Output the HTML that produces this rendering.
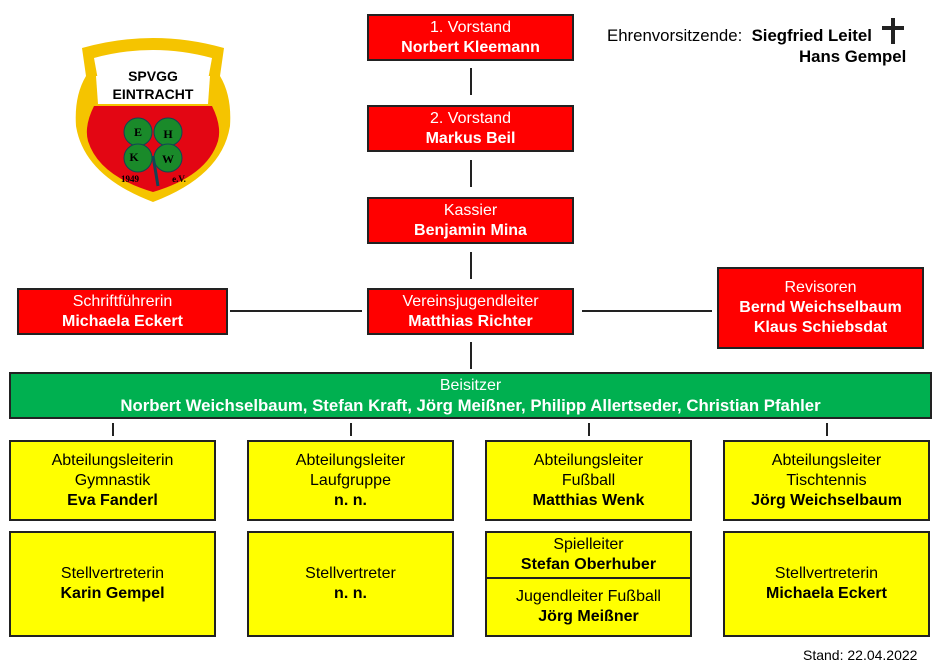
<!DOCTYPE html>
<html><head><meta charset="utf-8"><style>
body{margin:0;width:940px;height:666px;background:#fff;position:relative;font-family:"Liberation Sans",sans-serif;overflow:hidden}
.b{position:absolute;box-sizing:border-box;border:2px solid #222;display:flex;flex-direction:column;justify-content:center;align-items:center;text-align:center;font-size:16px;line-height:20px;white-space:nowrap}
.r{background:#f00;color:#fff}
.y{background:#ff0;color:#000}
.g{background:#00b050;color:#fff}
.g b{font-size:16.8px}
b{font-weight:bold}
.l{position:absolute;background:#222}
</style></head><body>
<svg style="position:absolute;left:72px;top:36px" width="162" height="168" viewBox="0 0 162 168">
<path d="M10 12 Q81 -8 152 12 L148 40 Q160 60 158 90 Q150 140 81 166 Q12 140 4 90 Q2 60 14 40 Z" fill="#f5c400"/>
<path d="M22 22 Q81 6 140 22 L136 44 L26 44 Z" fill="#fff"/>
<path d="M24 40 L138 40 L136 68 L26 68 Z" fill="#fff"/>
<path d="M22 70 L140 70 Q150 90 146 105 Q135 140 81 156 Q27 140 16 105 Q12 90 22 70 Z" fill="#e30613"/>
<text x="81" y="45" text-anchor="middle" font-family="Liberation Sans" font-weight="bold" font-size="14">SPVGG</text>
<text x="81" y="63" text-anchor="middle" font-family="Liberation Sans" font-weight="bold" font-size="14">EINTRACHT</text>
<g fill="#1a8a2a" stroke="#145">
<circle cx="66" cy="96" r="14"/><circle cx="96" cy="96" r="14"/><circle cx="66" cy="122" r="14"/><circle cx="96" cy="122" r="14"/></g>
<path d="M81 120 L86 150" stroke="#145" stroke-width="3"/>
<text x="66" y="100" font-size="12" text-anchor="middle" font-weight="bold" font-family="Liberation Serif">E</text>
<text x="96" y="102" font-size="12" text-anchor="middle" font-weight="bold" font-family="Liberation Serif">H</text>
<text x="62" y="125" font-size="12" text-anchor="middle" font-weight="bold" font-family="Liberation Serif">K</text>
<text x="96" y="127" font-size="12" text-anchor="middle" font-weight="bold" font-family="Liberation Serif">W</text>
<text x="58" y="146" font-size="9" text-anchor="middle" font-weight="bold" font-family="Liberation Serif">1949</text>
<text x="107" y="146" font-size="9" text-anchor="middle" font-weight="bold" font-family="Liberation Serif">e.V.</text>
</svg>
<div style="position:absolute;left:607px;top:26px;font-size:16.8px">Ehrenvorsitzende:&nbsp; <b>Siegfried Leitel</b></div>
<div class="l" style="left:891px;top:18px;width:4px;height:26px"></div>
<div class="l" style="left:882px;top:26px;width:22px;height:4px"></div>
<div style="position:absolute;left:799px;top:47px;font-size:16.8px;font-weight:bold">Hans Gempel</div>

<div class="b r" style="left:367px;top:14px;width:207px;height:47px">1. Vorstand<b>Norbert Kleemann</b></div>
<div class="b r" style="left:367px;top:105px;width:207px;height:47px">2. Vorstand<b>Markus Beil</b></div>
<div class="b r" style="left:367px;top:197px;width:207px;height:47px">Kassier<b>Benjamin Mina</b></div>
<div class="b r" style="left:367px;top:288px;width:207px;height:47px">Vereinsjugendleiter<b>Matthias Richter</b></div>
<div class="b r" style="left:17px;top:288px;width:211px;height:47px">Schriftführerin<b>Michaela Eckert</b></div>
<div class="b r" style="left:717px;top:267px;width:207px;height:82px">Revisoren<b>Bernd Weichselbaum</b><b>Klaus Schiebsdat</b></div>
<div class="l" style="left:470px;top:68px;width:2px;height:27px"></div>
<div class="l" style="left:470px;top:160px;width:2px;height:27px"></div>
<div class="l" style="left:470px;top:252px;width:2px;height:27px"></div>
<div class="l" style="left:470px;top:342px;width:2px;height:27px"></div>
<div class="l" style="left:230px;top:310px;width:132px;height:2px"></div>
<div class="l" style="left:582px;top:310px;width:130px;height:2px"></div>
<div class="b g" style="left:9px;top:372px;width:923px;height:47px">Beisitzer<b>Norbert Weichselbaum, Stefan Kraft, Jörg Meißner, Philipp Allertseder, Christian Pfahler</b></div>
<div class="l" style="left:112px;top:423px;width:2px;height:13px"></div>
<div class="l" style="left:350px;top:423px;width:2px;height:13px"></div>
<div class="l" style="left:588px;top:423px;width:2px;height:13px"></div>
<div class="l" style="left:826px;top:423px;width:2px;height:13px"></div>
<div class="b y" style="left:9px;top:440px;width:207px;height:81px">Abteilungsleiterin<span>Gymnastik</span><b>Eva Fanderl</b></div>
<div class="b y" style="left:247px;top:440px;width:207px;height:81px">Abteilungsleiter<span>Laufgruppe</span><b>n. n.</b></div>
<div class="b y" style="left:485px;top:440px;width:207px;height:81px">Abteilungsleiter<span>Fußball</span><b>Matthias Wenk</b></div>
<div class="b y" style="left:723px;top:440px;width:207px;height:81px">Abteilungsleiter<span>Tischtennis</span><b>Jörg Weichselbaum</b></div>
<div class="b y" style="left:9px;top:531px;width:207px;height:106px">Stellvertreterin<b>Karin Gempel</b></div>
<div class="b y" style="left:247px;top:531px;width:207px;height:106px">Stellvertreter<b>n. n.</b></div>
<div class="b y" style="left:485px;top:531px;width:207px;height:48px">Spielleiter<b>Stefan Oberhuber</b></div>
<div class="b y" style="left:485px;top:577px;width:207px;height:60px">Jugendleiter Fußball<b>Jörg Meißner</b></div>
<div class="b y" style="left:723px;top:531px;width:207px;height:106px">Stellvertreterin<b>Michaela Eckert</b></div>
<div style="position:absolute;left:803px;top:647px;font-size:14px">Stand: 22.04.2022</div>
</body></html>
